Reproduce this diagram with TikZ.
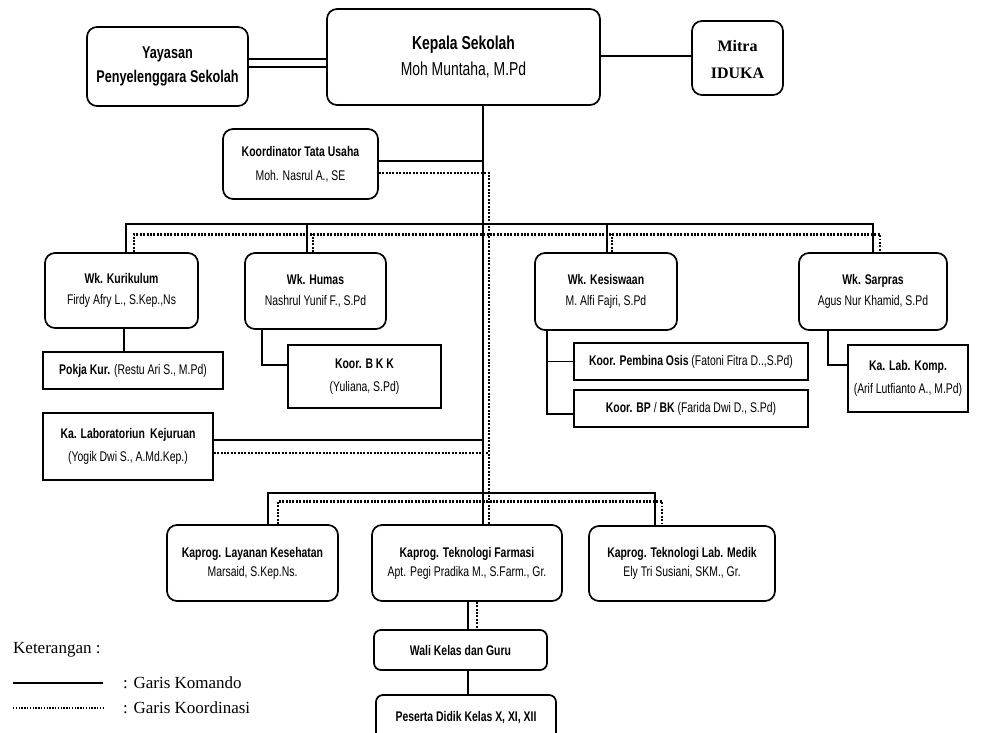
\documentclass[tikz,border=0pt]{standalone}
\usepackage{fontspec}
\setmainfont{Liberation Sans}[FakeStretch=0.745]
\newfontfamily\serifx{Liberation Serif}
\begin{document}
\begin{tikzpicture}[x=1pt,y=-1pt,
  rbox/.style={draw, line width=1.7pt, rounded corners=10pt, align=center, inner sep=0pt, font=\fontsize{14}{21}\selectfont},
  sbox/.style={draw, line width=1.7pt, align=center, inner sep=0pt, font=\fontsize{14}{23}\selectfont},
  cmd/.style={line width=1.6pt},
  koord/.style={line width=2.8pt, dash pattern=on 1.9pt off 1.5pt},
  serifl/.style={font=\serifx\fontsize{17}{20}\selectfont, inner sep=0pt, anchor=west}]
\useasboundingbox (0,0) rectangle (990,733);
\clip (0,0) rectangle (990,733);
\fill[white] (0,0) rectangle (990,733);
% top row
\node[rbox, minimum width=273pt, minimum height=96pt, font=\fontsize{18.7}{26}\selectfont] (kepala) at (463.5,57) {\textbf{Kepala Sekolah}\\Moh Muntaha, M.Pd};
\node[rbox, minimum width=161pt, minimum height=79pt, font=\fontsize{17}{24}\selectfont] (yayasan) at (167.5,66.5) {\textbf{Yayasan}\\\textbf{Penyelenggara Sekolah}};
\node[rbox, minimum width=91pt, minimum height=74pt, font=\serifx\bfseries\fontsize{16}{27}\selectfont, text depth=0pt] (mitra) at (737.5,58) {\raisebox{-3pt}{Mitra}\\\raisebox{-3pt}{IDUKA}};
\node[rbox, minimum width=155pt, minimum height=70pt, font=\fontsize{14}{24}\selectfont] (ktu) at (300.5,164) {\textbf{Koordinator Tata Usaha}\\Moh. Nasrul A., SE};
% wakil
\node[rbox, minimum width=153pt, minimum height=75pt] (wkkur) at (121.5,290.5) {\textbf{Wk. Kurikulum}\\Firdy Afry L., S.Kep.,Ns};
\node[rbox, minimum width=141pt, minimum height=76pt] (wkhum) at (315.5,291) {\textbf{Wk. Humas}\\Nashrul Yunif F., S.Pd};
\node[rbox, minimum width=142pt, minimum height=77pt] (wkkes) at (606,291.5) {\textbf{Wk. Kesiswaan}\\M. Alfi Fajri, S.Pd};
\node[rbox, minimum width=148pt, minimum height=77pt] (wksar) at (873,291.5) {\textbf{Wk. Sarpras}\\Agus Nur Khamid, S.Pd};
% sub boxes
\node[sbox, minimum width=180pt, minimum height=37pt] (pokja) at (133,370.5) {\textbf{Pokja Kur.} (Restu Ari S., M.Pd)};
\node[sbox, minimum width=153pt, minimum height=63pt] (bkk) at (364.5,376.5) {\textbf{Koor. B K K}\\(Yuliana, S.Pd)};
\node[sbox, minimum width=234pt, minimum height=37pt] (osis) at (691,361.5) {\textbf{Koor. Pembina Osis} (Fatoni Fitra D..,S.Pd)};
\node[sbox, minimum width=234pt, minimum height=37pt] (bpbk) at (691,408.5) {\textbf{Koor. BP} / \textbf{BK} (Farida Dwi D., S.Pd)};
\node[sbox, minimum width=120pt, minimum height=67pt] (labkomp) at (908,378.5) {\textbf{Ka. Lab. Komp.}\\(Arif Lutfianto A., M.Pd)};
\node[sbox, minimum width=170pt, minimum height=67pt] (labkej) at (128,446.5) {\textbf{Ka. Laboratoriun\, Kejuruan}\\(Yogik Dwi S., A.Md.Kep.)};
% kaprog
\node[rbox, minimum width=171pt, minimum height=76pt, font=\fontsize{14}{19}\selectfont] (kpl) at (252.5,563) {\textbf{Kaprog. Layanan Kesehatan}\\Marsaid, S.Kep.Ns.};
\node[rbox, minimum width=190pt, minimum height=76pt, font=\fontsize{14}{19}\selectfont] (kpf) at (467,563) {\textbf{Kaprog. Teknologi Farmasi}\\Apt. Pegi Pradika M., S.Farm., Gr.};
\node[rbox, minimum width=186pt, minimum height=75pt, font=\fontsize{14}{19}\selectfont] (kpm) at (682,563.5) {\textbf{Kaprog. Teknologi Lab. Medik}\\Ely Tri Susiani, SKM., Gr.};
\node[rbox, rounded corners=7pt, minimum width=173pt, minimum height=40pt] (wali) at (460.5,650) {\textbf{Wali Kelas dan Guru}};
\node[rbox, rounded corners=7pt, minimum width=180pt, minimum height=46pt] (peserta) at (466,718) {\textbf{Peserta Didik Kelas X, XI, XII}};
% guide coordinates
\coordinate (sx) at (483,0);
\coordinate (dx) at (489,0);
% top connectors
\draw[line width=2.8pt] (yayasan.east |- 0,59) -- (kepala.west |- 0,59);
\draw[line width=1.3pt] (yayasan.east |- 0,67) -- (kepala.west |- 0,67);
\draw[line width=2.8pt] (kepala.east |- 0,56) -- (mitra.west |- 0,56);
% main command line
\draw[cmd] (kepala.south -| sx) -- (kpf.north -| sx);
% tata usaha
\draw[cmd] ([yshift=3pt]ktu.east) -- ([yshift=3pt]ktu.east -| sx);
\draw[koord] ([yshift=-9pt]ktu.east) -| (kpf.north -| dx);
% wakil bus
\draw[cmd] ([xshift=4.5pt]wkkur.north) |- ([yshift=28pt]wksar.north) -- (wksar.north);
\draw[cmd] ([xshift=-8.5pt]wkhum.north) -- ++(0,-28);
\draw[cmd] ([xshift=1pt]wkkes.north) -- ++(0,-28);
\draw[koord] ([xshift=12.5pt]wkkur.north) |- ([xshift=7pt,yshift=18pt]wksar.north) -- ([xshift=7pt]wksar.north);
\draw[koord] ([xshift=-2.5pt]wkhum.north) -- ++(0,-18);
\draw[koord] ([xshift=6pt]wkkes.north) -- ++(0,-18);
% sub connectors
\draw[cmd] ([xshift=2.5pt]wkkur.south) -- ([xshift=2.5pt]wkkur.south |- pokja.north);
\draw[cmd] ([xshift=-53.5pt]wkhum.south) |- ([yshift=11.5pt]bkk.west);
\draw[cmd] ([xshift=-59pt]wkkes.south) |- ([yshift=-5.5pt]bpbk.west);
\draw[cmd] ([xshift=-59pt]wkkes.south |- osis.west) -- (osis.west);
\draw[cmd] ([xshift=-45pt]wksar.south) |- ([yshift=13.5pt]labkomp.west);
% lab kejuruan
\draw[cmd] ([yshift=6.5pt]labkej.east) -- ([yshift=6.5pt]labkej.east -| sx);
\draw[koord] ([yshift=-6.5pt]labkej.east) -- ([yshift=-6.5pt]labkej.east -| dx);
% kaprog bus
\draw[cmd] ([xshift=15.5pt]kpl.north) |- ([xshift=-27pt,yshift=32pt]kpm.north) -- ([xshift=-27pt]kpm.north);
\draw[koord] ([xshift=25.5pt]kpl.north) |- ([xshift=-20pt,yshift=24pt]kpm.north) -- ([xshift=-20pt]kpm.north);
% farmasi to wali, peserta
\draw[cmd] ([xshift=1pt]kpf.south) -- ([xshift=1pt]kpf.south |- wali.north);
\draw[koord] ([xshift=10pt]kpf.south) -- ([xshift=10pt]kpf.south |- wali.north);
\draw[cmd] ([xshift=1pt]kpf.south |- wali.south) -- ([xshift=1pt]kpf.south |- peserta.north);
% legend
\node[serifl] (ket) at (13,650) {Keterangan :};
\coordinate (la1) at (13,683);
\coordinate (la2) at (103,683);
\coordinate (lb1) at (13,708);
\coordinate (lb2) at (103,708);
\node[serifl] (lk) at (123,683) {: Garis Komando};
\node[serifl] (ld) at (123,708) {: Garis Koordinasi};
\draw[line width=1.3pt] (la1) -- (la2);
\draw[line width=2pt, dash pattern=on 1.4pt off 1.4pt] (lb1) -- (lb2);
\end{tikzpicture}
\end{document}
